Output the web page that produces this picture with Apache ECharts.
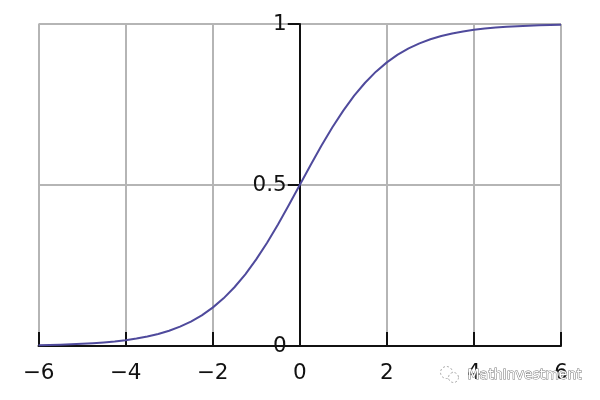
<!DOCTYPE html>
<html>
<head>
<meta charset="utf-8">
<style>html,body{margin:0;padding:0;background:#fff}#c{width:600px;height:400px}</style>
<script src="https://cdn.jsdelivr.net/npm/echarts@6/dist/echarts.min.js"></script>
</head>
<body>
<div id="c"></div>
<script>
const xValues = [-6,-5.75,-5.5,-5.25,-5,-4.75,-4.5,-4.25,-4,-3.75,-3.5,-3.25,-3,-2.75,-2.5,-2.25,-2,-1.75,-1.5,-1.25,-1,-0.75,-0.5,-0.25,0,0.25,0.5,0.75,1,1.25,1.5,1.75,2,2.25,2.5,2.75,3,3.25,3.5,3.75,4,4.25,4.5,4.75,5,5.25,5.5,5.75,6];
const yValues = [0.0025,0.0032,0.0041,0.0052,0.0067,0.0086,0.011,0.0141,0.018,0.023,0.0293,0.0373,0.0474,0.0601,0.0759,0.0953,0.1192,0.148,0.1824,0.2227,0.2689,0.3208,0.3775,0.4378,0.5,0.5622,0.6225,0.6792,0.7311,0.7773,0.8176,0.852,0.8808,0.9047,0.9241,0.9399,0.9526,0.9627,0.9707,0.977,0.982,0.9859,0.989,0.9914,0.9933,0.9948,0.9959,0.9968,0.9975];
const yTickLabels = {0:'0',0.5:'0.5',1:'1'};
const watermarkText = 'MathInvestment';

const font = 'DejaVu Sans';
const points = xValues.map((x,i)=>[x,yValues[i]]);
const chart = echarts.init(document.getElementById('c'),null,{renderer:'canvas'});
chart.setOption({
  animation:false,
  backgroundColor:'#fff',
  grid:{left:38.5,right:39,top:24,bottom:54,containLabel:false},
  xAxis:{
    type:'value',min:-6,max:6,interval:2,
    axisLine:{onZero:false,lineStyle:{color:'#111',width:2}},
    axisTick:{show:true,inside:true,length:14,lineStyle:{color:'#111',width:2}},
    axisLabel:{color:'#111',fontFamily:font,fontSize:21.5,margin:16,hideOverlap:false,showMinLabel:true,showMaxLabel:true,
      formatter:v=>String(v).replace('-','\u2212')},
    splitLine:{show:true,lineStyle:{color:'#b5b5b5',width:2}}
  },
  yAxis:{
    type:'value',min:0,max:1,interval:0.5,offset:-261.25,
    axisLine:{show:true,onZero:false,lineStyle:{color:'#111',width:2}},
    axisTick:{show:true,inside:false,length:12,lineStyle:{color:'#111',width:2}},
    axisLabel:{color:'#111',fontFamily:font,fontSize:21.5,margin:13,showMinLabel:true,showMaxLabel:true,
      formatter:v=>yTickLabels[v]},
    splitLine:{show:true,lineStyle:{color:'#b5b5b5',width:2}}
  },
  series:[{
    type:'line',data:points,smooth:false,showSymbol:false,symbol:'none',
    lineStyle:{color:'#4f4a9c',width:2,join:'round'},z:5,clip:false
  }],
  graphic:[
    {type:'text',left:467,top:368,z:20,style:{text:watermarkText,fontFamily:font,fontSize:14,fill:'#fff',stroke:'#777',lineWidth:1}},
    {type:'group',left:440,top:366,z:20,children:[
      {type:'circle',shape:{cx:8,cy:8,r:6},style:{fill:'#fff',stroke:'#aaa',lineWidth:1,lineDash:[2,2]}},
      {type:'circle',shape:{cx:15,cy:13,r:5},style:{fill:'#fff',stroke:'#aaa',lineWidth:1,lineDash:[2,2]}}
    ]}
  ]
});
</script>
</body>
</html>
